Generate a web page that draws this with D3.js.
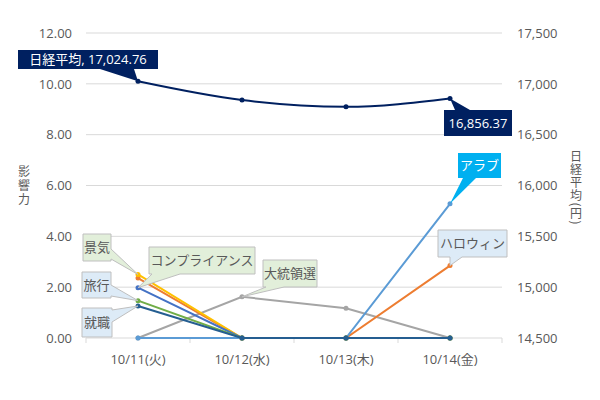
<!DOCTYPE html>
<html>
<head>
<meta charset="utf-8">
<script src="https://cdn.jsdelivr.net/npm/d3@7"></script>
<style>
  body { margin: 0; background: #fff; }
  text { font-family: "Open Sans", "Noto Sans CJK JP", sans-serif; }
</style>
</head>
<body>
<div id="chart"></div>
<script>
// data
const dates = ["10/11(火)", "10/12(水)", "10/13(木)", "10/14(金)"];
const leftTicks = [0, 2, 4, 6, 8, 10, 12];
const rightTicks = [14500, 15000, 15500, 16000, 16500, 17000, 17500];

const nikkei = [17024.76, 16840.00, 16774.24, 16856.37];

const arab = [0, 0, 0, 5.28];
const halloween = [2.36, 0, 0, 2.85];
const election = [0, 1.62, 1.17, 0];
const keiki = [2.5, 0, 0, 0];
const compliance = [1.98, 0, 0, 0];
const ryoko = [1.47, 0, 0, 0];
const shushoku = [1.26, 0, 0, 0];

const seriesNames = ["アラブ", "ハロウィン", "大統領選", "景気", "コンプライアンス", "旅行", "就職"];
const seriesValues = [arab, halloween, election, keiki, compliance, ryoko, shushoku];
const seriesColors = ["#5B9BD5", "#ED7D31", "#A5A5A5", "#FFC000", "#4472C4", "#70AD47", "#255E91"];

const width = 600, height = 400;
const plot = { left: 86, right: 502, top: 33, bottom: 338 };

const svg = d3.select("#chart").append("svg")
    .attr("width", width)
    .attr("height", height);

const x = d3.scalePoint()
    .domain(dates)
    .range([plot.left, plot.right])
    .padding(0.5);

const y = d3.scaleLinear().domain([0, 12]).range([plot.bottom, plot.top]);
const y2 = d3.scaleLinear().domain([14500, 17500]).range([plot.bottom, plot.top]);

// gridlines
svg.selectAll(".grid")
    .data(leftTicks)
    .enter()
    .append("line")
    .attr("x1", plot.left)
    .attr("x2", plot.right)
    .attr("y1", d => y(d))
    .attr("y2", d => y(d))
    .attr("stroke", "#D9D9D9")
    .attr("stroke-width", 1);

// category ticks
const step = x.step();
const tickXs = d3.range(dates.length + 1).map(i => plot.left + i * step);
svg.selectAll(".xtick")
    .data(tickXs)
    .enter()
    .append("line")
    .attr("x1", d => d).attr("x2", d => d)
    .attr("y1", plot.bottom).attr("y2", plot.bottom + 5)
    .attr("stroke", "#D9D9D9");

// axes labels
svg.selectAll(".ylab")
    .data(leftTicks)
    .enter()
    .append("text")
    .attr("x", 72)
    .attr("y", d => y(d))
    .attr("dy", "0.36em")
    .attr("text-anchor", "end")
    .style("font-size", "13px")
    .style("fill", "#595959")
    .text(d => d.toFixed(2));

svg.selectAll(".y2lab")
    .data(rightTicks)
    .enter()
    .append("text")
    .attr("x", 517)
    .attr("y", d => y2(d))
    .attr("dy", "0.36em")
    .attr("text-anchor", "start")
    .style("font-size", "13px")
    .style("fill", "#595959")
    .text(d => d3.format(",")(d));

svg.selectAll(".xlab")
    .data(dates)
    .enter()
    .append("text")
    .attr("x", d => x(d))
    .attr("y", 364)
    .attr("text-anchor", "middle")
    .style("font-size", "13px")
    .style("fill", "#595959")
    .text(d => d);

// axis titles (vertical writing)
svg.append("text")
    .attr("x", 24)
    .attr("y", 186)
    .attr("text-anchor", "middle")
    .style("writing-mode", "vertical-rl")
    .style("letter-spacing", "2px")
    .style("font-family", "'Noto Sans CJK JP', sans-serif")
    .style("font-size", "12px")
    .style("fill", "#595959")
    .text("影響力");

svg.append("text")
    .attr("x", 576)
    .attr("y", 188)
    .attr("text-anchor", "middle")
    .style("writing-mode", "vertical-rl")
    .style("letter-spacing", "1px")
    .style("font-family", "'Noto Sans CJK JP', sans-serif")
    .style("font-size", "12px")
    .style("fill", "#595959")
    .text("日経平均(円)");

// lines
const line = d3.line()
    .x((d, i) => x(dates[i]))
    .y(d => y(d));

const drawOrder = [2, 1, 0, 3, 4, 5, 6];
drawOrder.forEach(k => {
    svg.append("path")
        .datum(seriesValues[k])
        .attr("fill", "none")
        .attr("stroke", seriesColors[k])
        .attr("stroke-width", 2)
        .attr("d", line);
    svg.selectAll(".m" + k)
        .data(seriesValues[k])
        .enter()
        .append("circle")
        .attr("cx", (d, i) => x(dates[i]))
        .attr("cy", d => y(d))
        .attr("r", 2.5)
        .attr("fill", seriesColors[k]);
});

const line2 = d3.line()
    .x((d, i) => x(dates[i]))
    .y(d => y2(d))
    .curve(d3.curveMonotoneX);

svg.append("path")
    .datum(nikkei)
    .attr("fill", "none")
    .attr("stroke", "#002060")
    .attr("stroke-width", 2)
    .attr("d", line2);

svg.selectAll(".nm")
    .data(nikkei)
    .enter()
    .append("circle")
    .attr("cx", (d, i) => x(dates[i]))
    .attr("cy", d => y2(d))
    .attr("r", 2.5)
    .attr("fill", "#002060");

// callout labels
function callout(opt) {
    const { x0, y0, w, h, side, b1, b2, tx, ty } = opt;
    const x1 = x0 + w, y1 = y0 + h;
    let p;
    if (side === "bottom") {
        p = [[x0, y0], [x1, y0], [x1, y1], [b2, y1], [tx, ty], [b1, y1], [x0, y1]];
    } else if (side === "top") {
        p = [[x0, y0], [b1, y0], [tx, ty], [b2, y0], [x1, y0], [x1, y1], [x0, y1]];
    } else {
        p = [[x0, y0], [x1, y0], [x1, b1], [tx, ty], [x1, b2], [x1, y1], [x0, y1]];
    }
    svg.append("path")
        .attr("d", "M" + p.map(q => q.join(",")).join("L") + "Z")
        .attr("fill", opt.fill)
        .attr("stroke", opt.stroke || "none")
        .attr("stroke-width", 1);
    svg.append("text")
        .attr("x", x0 + w / 2)
        .attr("y", y0 + h / 2)
        .attr("dy", "0.36em")
        .attr("text-anchor", "middle")
        .style("font-size", "13px")
        .style("fill", opt.color)
        .text(opt.text);
}

const greenBox = "#E2EFDA", blueBox = "#DDEBF7", boxLine = "#BFBFBF", labelText = "#595959";

callout({ text: "日経平均, " + d3.format(",.2f")(nikkei[0]), x0: 18, y0: 50, w: 140, h: 19,
    side: "bottom", b1: 100, b2: 134, tx: x(dates[0]), ty: y2(nikkei[0]), fill: "#002060", color: "#fff" });
callout({ text: d3.format(",.2f")(nikkei[3]), x0: 444, y0: 110, w: 68, h: 26,
    side: "top", b1: 455, b2: 470, tx: x(dates[3]), ty: y2(nikkei[3]), fill: "#002060", color: "#fff" });
callout({ text: seriesNames[0], x0: 458, y0: 153, w: 43, h: 25,
    side: "bottom", b1: 463, b2: 476, tx: x(dates[3]), ty: y(arab[3]), fill: "#00B0F0", color: "#fff" });
callout({ text: seriesNames[1], x0: 438, y0: 230, w: 69, h: 27,
    side: "bottom", b1: 450, b2: 462, tx: x(dates[3]), ty: y(halloween[3]), fill: blueBox, stroke: boxLine, color: labelText });
callout({ text: seriesNames[2], x0: 263, y0: 260, w: 54, h: 27,
    side: "bottom", b1: 266, b2: 284, tx: x(dates[1]), ty: y(election[1]), fill: greenBox, stroke: boxLine, color: labelText });
callout({ text: seriesNames[4], x0: 149, y0: 247, w: 106, h: 27,
    side: "bottom", b1: 152, b2: 180, tx: x(dates[0]), ty: y(compliance[0]), fill: greenBox, stroke: boxLine, color: labelText });
callout({ text: seriesNames[3], x0: 83, y0: 234, w: 28, h: 27,
    side: "right", b1: 249, b2: 259, tx: x(dates[0]), ty: y(keiki[0]), fill: greenBox, stroke: boxLine, color: labelText });
callout({ text: seriesNames[5], x0: 82, y0: 272, w: 29, h: 26,
    side: "right", b1: 285, b2: 296, tx: x(dates[0]), ty: y(ryoko[0]), fill: blueBox, stroke: boxLine, color: labelText });
callout({ text: seriesNames[6], x0: 82, y0: 308, w: 30, h: 29,
    side: "right", b1: 310, b2: 322, tx: x(dates[0]), ty: y(shushoku[0]), fill: blueBox, stroke: boxLine, color: labelText });
</script>
</body>
</html>
